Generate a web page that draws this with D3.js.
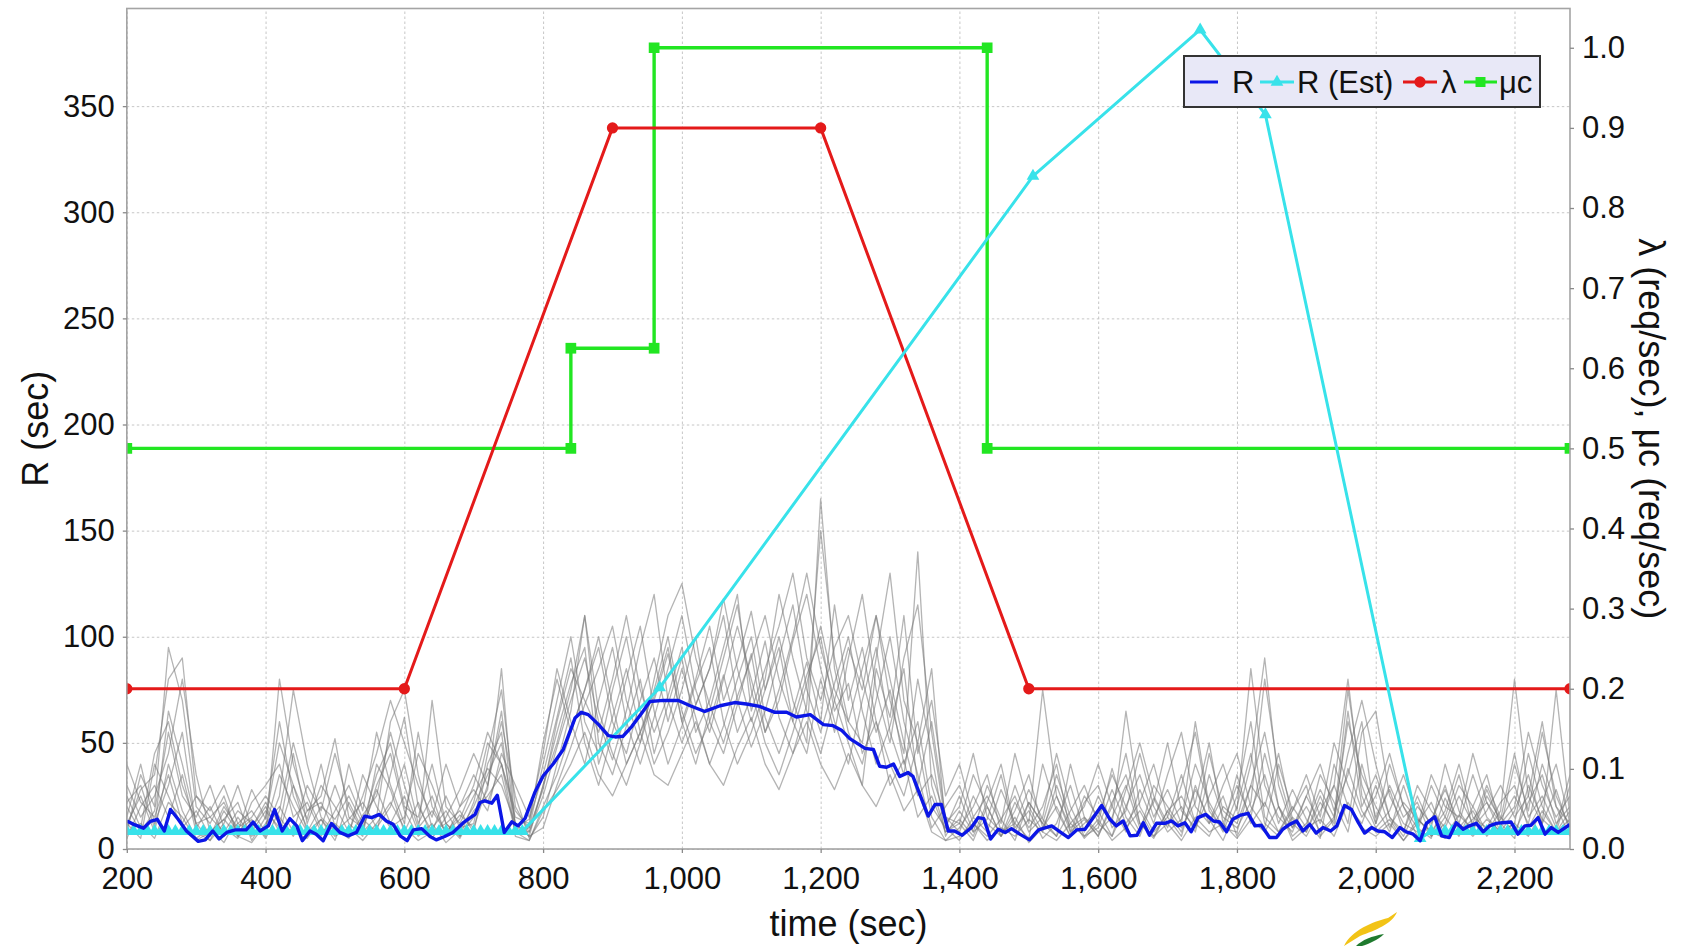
<!DOCTYPE html>
<html>
<head>
<meta charset="utf-8">
<script src="https://cdn.jsdelivr.net/npm/d3@7"></script>
<style>
  html, body { margin: 0; padding: 0; background: #fff; }
  svg { display: block; }
  text { font-family: "Liberation Sans", Arial, Helvetica, sans-serif; fill: #111; }
</style>
</head>
<body>
<svg id="chart" width="1685" height="946"></svg>
<script>
// ---------- axis ticks ----------
const xTicks  = [200, 400, 600, 800, 1000, 1200, 1400, 1600, 1800, 2000, 2200];
const yLTicks = [0, 50, 100, 150, 200, 250, 300, 350];
const yRTicks = [0.0, 0.1, 0.2, 0.3, 0.4, 0.5, 0.6, 0.7, 0.8, 0.9, 1.0];

// ---------- arrival rate λ (req/sec), right axis ----------
const lambdaTime = [200, 600, 900, 1200, 1500, 2280];
const lambdaVal  = [0.2, 0.2, 0.9, 0.9, 0.2, 0.2];

// ---------- service capacity μc (req/sec), right axis ----------
const muTime = [200, 840, 840, 960, 960, 1440, 1440, 2280];
const muVal  = [0.5, 0.5, 0.625, 0.625, 1.0, 1.0, 0.5, 0.5];

// ---------- estimated response time R (Est), left axis ----------
const estTime = [200,210,220,230,240,250,260,270,280,290,300,310,320,330,340,350,360,370,380,390,
                 400,410,420,430,440,450,460,470,480,490,500,510,520,530,540,550,560,570,580,590,
                 600,610,620,630,640,650,660,670,680,690,700,710,720,730,740,750,760,770,
                 968,1506,1747,1841,2064,
                 2080,2090,2100,2110,2120,2130,2140,2150,2160,2170,2180,2190,2200,2210,2220,2230,2240,2250,2260,2270,2280];
const estVal  = [8.3,8.3,8.3,8.3,8.3,8.3,8.3,8.3,8.3,8.3,8.3,8.3,8.3,8.3,8.3,8.3,8.3,8.3,8.3,8.3,
                 8.3,8.3,8.3,8.3,8.3,8.3,8.3,8.3,8.3,8.3,8.3,8.3,8.3,8.3,8.3,8.3,8.3,8.3,8.3,8.3,
                 8.3,8.3,8.3,8.3,8.3,8.3,8.3,8.3,8.3,8.3,8.3,8.3,8.3,8.3,8.3,8.3,8.3,8.3,
                 76,317,386,346,5,
                 8.3,8.3,8.3,8.3,8.3,8.3,8.3,8.3,8.3,8.3,8.3,8.3,8.3,8.3,8.3,8.3,8.3,8.3,8.3,8.3,8.3];

// ---------- mean measured response time R (sec), left axis ----------
const rTime = [200,210,224,234,244,254,263,274,286,303,313,324,333,344,356,372,382,392,404,413,
               424,435,445,453,464,473,483,495,507,519,531,543,553,564,574,584,594,604,613,625,
               637,646,658,670,685,702,709,716,726,734,744,755,764,774,788,800,815,829,846,855,
               865,880,894,904,915,928,942,954,973,995,1012,1033,1055,1076,1093,1112,1134,1151,1165,1185,
               1204,1218,1230,1242,1264,1276,1285,1295,1305,1314,1326,1333,1355,1365,1374,1384,1393,1404,1417,1427,
               1435,1445,1456,1466,1475,1487,1501,1514,1533,1545,1557,1569,1581,1593,1605,1617,1626,1636,1646,1656,
               1665,1674,1684,1696,1706,1715,1725,1734,1744,1755,1766,1775,1785,1794,1804,1816,1826,1835,1847,1857,
               1866,1876,1886,1895,1905,1914,1924,1935,1944,1955,1965,1975,1984,1994,2003,2013,2024,2035,2044,2054,
               2064,2073,2085,2095,2106,2116,2126,2135,2145,2155,2164,2174,2183,2195,2205,2215,2224,2234,2244,2253,
               2263,2280];
const rVal  = [13.2,11.6,9.8,13,14,8.5,18.6,14,8.5,3.6,4.3,8.5,4.7,7.8,9,9,12.7,8.5,10.9,18.6,
               8.5,14.3,10.9,3.9,8.5,7,3.9,12,7.8,6.2,7.8,15.5,14.8,16.3,13.2,11.6,6.2,3.9,9,9.6,
               5.9,4.3,5.9,7.8,12.4,16.3,21.9,22.7,21.6,25.3,7.8,12.8,10.9,14.4,26.6,34.4,40.3,46.9,61.7,64.4,
               63.3,58.6,53.4,52.8,53.1,57.8,64,69.5,70,70,67.5,64.8,67.5,69,68.3,67.2,64.4,64.4,62.2,63.3,
               58.6,58.1,56,52,47.4,46.9,39,38.5,40,34.2,36,34.2,15.5,21,21,8.5,8.5,6.5,10,14.8,
               14.3,4.7,9.3,7.8,9.6,7,4.3,9,10.9,8.1,5.4,9,9.3,14.8,20.5,14,10.9,13.2,6.2,6.5,
               12.4,6.5,12.1,12.1,13.2,10.9,12.4,8.1,14.8,16.3,13.2,12.7,8.1,14,15.8,16.8,10.9,11.2,5.4,5.4,
               9.3,11.6,13.2,8.5,11.6,7.5,10.1,8.5,10.9,20.5,18.6,12.4,7.5,10.1,8.5,8.1,5.4,10.1,8.1,7,
               3.9,12.1,15.2,6.2,5.4,12.4,9.3,10.9,12.1,8.1,10.9,12.1,12.4,12.7,7,10.9,11.2,14.8,7,10.1,
               7.8,11.6];

// ---------- individual replication runs of R (sec), left axis ----------
const grayTime = [200,220,240,260,280,300,320,340,360,380,400,420,440,460,480,500,520,540,560,580,
                  600,620,640,660,680,700,720,740,760,780,800,820,840,860,880,900,920,940,960,980,
                  1000,1020,1040,1060,1080,1100,1120,1140,1160,1180,1200,1220,1240,1260,1280,1300,1320,1340,1360,1380,
                  1400,1420,1440,1460,1480,1500,1520,1540,1560,1580,1600,1620,1640,1660,1680,1700,1720,1740,1760,1780,
                  1800,1820,1840,1860,1880,1900,1920,1940,1960,1980,2000,2020,2040,2060,2080,2100,2120,2140,2160,2180,
                  2200,2220,2240,2260,2280];
const run01 = [12,25,8,40,18,5,10,3,15,6, 10,35,20,8,14,4,22,9,30,45, 18,6,12,3,9,20,35,50,12,6,
               30,55,78,95,40,62,85,55,70,92, 60,80,105,70,88,112,75,95,60,82, 100,65,78,45,60,30,42,15,25,8,
               12,4,20,6,15,3,10,25,8,14, 6,22,35,12,5,18,8,28,14,4, 20,45,12,6,15,8,25,10,38,18,
               8,14,4,12,22,6,16,9,28,12, 5,30,14,8,18];
const run02 = [25,10,45,60,30,12,4,18,8,14, 5,18,50,25,10,30,12,6,40,28, 8,22,5,15,28,45,30,60,25,5,
               15,40,65,110,50,35,58,80,45,68, 90,55,70,95,120,65,85,105,130,90, 70,95,110,80,55,75,40,60,20,10,
               4,15,8,28,12,5,40,18,6,22, 30,10,18,45,20,8,14,40,22,10, 8,30,55,20,6,12,28,15,60,35,
               20,8,30,10,5,24,10,18,6,14, 25,12,40,20,6];
const run03 = [8,35,20,95,70,20,12,25,6,10, 20,8,30,14,40,10,5,16,25,55, 30,10,18,8,14,30,55,40,8,10,
               40,70,100,60,45,75,100,65,40,55, 75,100,60,45,68,92,55,70,98,120, 85,60,40,70,95,55,35,80,45,6,
               18,8,30,14,4,22,12,35,15,5, 12,38,15,6,24,10,30,55,18,9, 35,12,22,8,18,30,6,14,45,70,
               40,15,6,20,12,30,8,14,22,8, 12,45,20,8,30];
const run04 = [30,15,25,45,80,35,8,14,22,4, 15,60,25,10,6,18,30,14,8,35, 62,20,8,25,10,12,45,75,20,8,
               25,48,70,90,60,42,65,95,120,70, 50,68,85,110,70,48,65,90,115,75, 55,78,100,65,40,58,85,30,60,15,
               8,25,12,6,18,35,10,20,6,12, 18,6,28,50,25,12,20,8,35,15, 10,22,80,35,12,6,18,30,12,55,
               65,25,12,8,30,15,6,20,35,10, 40,18,55,25,10];
const run05 = [15,40,12,30,55,10,20,6,12,18, 8,25,75,40,15,8,14,22,10,20, 40,12,25,6,20,35,22,40,15,12,
               50,80,55,75,100,68,40,55,75,100, 65,45,60,82,55,72,98,62,45,68, 150,90,60,85,110,70,45,140,30,8,
               14,6,22,40,10,18,5,12,30,8, 25,12,65,20,8,15,35,12,6,20, 14,40,90,30,10,20,8,15,75,30,
               12,40,20,6,14,28,12,35,15,8, 18,35,12,75,15];
const run06 = [5,20,30,15,35,8,4,12,30,10, 22,12,8,30,18,45,20,8,15,60, 75,35,10,18,6,15,28,85,10,14,
               35,62,90,50,30,55,80,105,65,40, 58,78,95,60,40,55,75,100,70,50, 165,85,55,40,70,100,60,35,10,20,
               30,12,6,14,25,8,15,45,20,6, 10,28,12,22,40,15,6,30,12,25, 6,18,35,12,28,14,5,40,20,12,
               30,10,22,14,8,18,40,15,10,22, 30,10,22,40,12];
const run07 = [20,8,18,55,25,15,30,10,5,22, 30,40,15,22,8,12,6,35,20,10, 15,45,30,12,18,8,40,55,6,4,
               20,35,55,75,95,60,45,70,90,60, 85,62,40,58,80,100,62,45,65,88, 60,115,70,95,60,40,25,50,15,4,
               10,20,35,8,12,28,14,6,18,30, 12,6,20,35,15,28,12,60,20,8, 25,60,15,8,20,10,35,22,8,40,
               15,28,8,30,18,10,25,12,30,15, 8,22,35,12,20];
const run08 = [10,28,35,80,90,25,15,8,18,12, 6,80,40,18,25,52,15,10,28,12, 25,8,70,20,12,25,38,30,12,6,
               10,30,48,68,85,105,70,50,80,110, 125,90,68,50,72,90,110,80,60,45, 80,55,90,120,75,50,90,115,55,12,
               20,45,15,8,30,12,75,25,10,15, 8,15,30,10,22,50,18,10,25,40, 18,85,30,15,8,25,12,30,80,25,
               10,18,35,15,6,12,30,20,8,18, 80,25,12,28,8];
const run09 = [8,12,5,22,15,4,8,14,6,3, 12,20,8,5,14,6,10,4,12,22, 10,4,8,12,5,18,25,35,8,4,
               18,28,40,55,35,25,40,55,35,30, 45,60,40,30,48,62,40,28,45,60, 40,28,45,30,20,35,18,28,8,4,
               6,12,4,10,6,14,8,4,12,6, 14,4,10,18,6,12,4,15,8,12, 5,14,8,20,4,10,14,6,22,10,
               6,12,4,14,8,5,12,6,14,8, 12,6,18,8,14];
const run10 = [40,22,15,35,12,25,18,30,12,8, 18,10,45,12,30,20,8,25,45,70, 50,30,15,40,20,28,18,45,30,15,
               45,85,60,40,70,95,60,40,62,85, 110,75,55,80,105,80,55,75,100,130, 95,70,50,30,85,62,110,45,70,25,
               40,15,25,12,45,20,8,30,12,20, 40,20,8,28,12,35,55,20,12,30, 45,20,10,40,18,35,15,50,30,15,
               25,45,20,10,35,20,15,45,22,12, 20,55,30,15,25];
const run11 = [12,5,40,25,10,18,6,20,10,15, 25,15,6,18,22,8,40,18,55,30, 12,55,20,8,16,10,30,65,10,8,
               30,50,75,110,65,45,30,50,72,95, 60,40,65,90,115,75,50,35,55,78, 105,75,60,50,90,130,70,50,85,10,
               25,8,14,35,8,22,12,6,40,15, 6,20,45,12,6,18,25,12,45,18, 12,30,20,45,14,8,22,12,65,20,
               35,15,8,25,10,40,18,8,25,14, 45,15,25,10,35];
const run12 = [22,30,10,65,40,12,15,22,8,28, 14,50,30,8,20,14,25,12,35,50, 20,15,40,12,6,22,50,40,18,10,
               28,60,85,70,55,80,110,75,55,72, 95,68,85,118,85,60,80,120,90,65, 45,70,95,75,110,80,50,25,35,15,
               12,35,20,6,22,10,20,40,8,25, 15,35,20,8,30,20,10,22,50,12, 30,15,45,20,10,25,40,18,35,60,
               12,30,15,22,6,15,35,10,18,30, 15,25,60,20,12];
const runs = [run01, run02, run03, run04, run05, run06, run07, run08, run09, run10, run11, run12];

// ---------- legend entries ----------
const legendItems = [
  { label: "R",       color: "#0b16e6", symbol: null },
  { label: "R (Est)", color: "#38e2ea", symbol: d3.symbolTriangle },
  { label: "λ",       color: "#e41a1a", symbol: d3.symbolCircle },
  { label: "μc",      color: "#22e622", symbol: d3.symbolSquare }
];

// ---------- layout ----------
const W = 1685, H = 946;
const P = { left: 126.8, right: 1570, top: 8.5, bottom: 849 };
const C = { blue: "#0b16e6", cyan: "#38e2ea", red: "#e41a1a", green: "#22e622", gray: "#767676" };

const x  = d3.scaleLinear().domain([200, 2280]).range([P.left, P.right]);
const yL = d3.scaleLinear().domain([0, 396]).range([P.bottom, P.top]);
const yR = d3.scaleLinear().domain([0, 1.049]).range([P.bottom, P.top]);

const svg = d3.select("#chart");
svg.append("rect").attr("width", W).attr("height", H).attr("fill", "#fff");
svg.append("defs").append("clipPath").attr("id", "plotClip")
  .append("rect").attr("x", P.left).attr("y", P.top)
  .attr("width", P.right - P.left).attr("height", P.bottom - P.top);

// ---------- grid ----------
const gridStyle = g => g.call(s => s.select(".domain").remove())
  .call(s => s.selectAll(".tick text").remove())
  .call(s => s.selectAll(".tick line").attr("stroke", "#c6c6c6").attr("stroke-width", 1).attr("stroke-dasharray", "2.5,2.5"));
svg.append("g").attr("transform", `translate(0,${P.bottom})`)
  .call(d3.axisBottom(x).tickValues(xTicks).tickSize(-(P.bottom - P.top))).call(gridStyle);
svg.append("g").attr("transform", `translate(${P.left},0)`)
  .call(d3.axisLeft(yL).tickValues(yLTicks).tickSize(-(P.right - P.left))).call(gridStyle);

// ---------- series ----------
const plot = svg.append("g").attr("clip-path", "url(#plotClip)");

const grayLine = d3.line().x((d, i) => x(grayTime[i])).y(d => yL(d));
plot.append("g").selectAll("path").data(runs).join("path")
  .attr("d", grayLine).attr("fill", "none")
  .attr("stroke", C.gray).attr("stroke-opacity", 0.55).attr("stroke-width", 1.3)
  .attr("stroke-linejoin", "round");

function series(times, vals, yScale, color, width, symbol, size) {
  const pts = times.map((t, i) => [x(t), yScale(vals[i])]);
  const g = plot.append("g");
  g.append("path").attr("d", d3.line()(pts)).attr("fill", "none")
    .attr("stroke", color).attr("stroke-width", width).attr("stroke-linejoin", "round");
  if (symbol) {
    g.selectAll("path.m").data(pts).join("path").attr("class", "m")
      .attr("transform", d => `translate(${d[0]},${d[1]})`)
      .attr("d", d3.symbol().type(symbol).size(size)).attr("fill", color);
  }
}
series(muTime, muVal, yR, C.green, 3.4, d3.symbolSquare, 115);
series(lambdaTime, lambdaVal, yR, C.red, 3, d3.symbolCircle, 100);
series(estTime, estVal, yL, C.cyan, 3, d3.symbolTriangle, 70);
series(rTime, rVal, yL, C.blue, 3.4, null, 0);

// ---------- plot border ----------
svg.append("rect").attr("x", P.left).attr("y", P.top)
  .attr("width", P.right - P.left).attr("height", P.bottom - P.top)
  .attr("fill", "none").attr("stroke", "#a4a4a4").attr("stroke-width", 1.6);

// ---------- axes ----------
const axisStyle = g => g.call(s => s.select(".domain").remove())
  .call(s => s.selectAll(".tick line").attr("stroke", "#8a8a8a").attr("stroke-width", 1.3))
  .call(s => s.selectAll(".tick text").attr("font-size", 31).attr("fill", "#111")
    .attr("font-family", "'Liberation Sans', Arial, sans-serif"));

svg.append("g").attr("transform", `translate(0,${P.bottom})`)
  .call(d3.axisBottom(x).tickValues(xTicks).tickSize(4).tickPadding(14).tickFormat(d3.format(",")))
  .call(axisStyle);
svg.append("g").attr("transform", `translate(${P.left},0)`)
  .call(d3.axisLeft(yL).tickValues(yLTicks).tickSize(4).tickPadding(8).tickFormat(d3.format("d")))
  .call(axisStyle);
svg.append("g").attr("transform", `translate(${P.right},0)`)
  .call(d3.axisRight(yR).tickValues(yRTicks).tickSize(4).tickPadding(8).tickFormat(d3.format(".1f")))
  .call(axisStyle);

// ---------- axis titles ----------
svg.append("text").attr("x", (P.left + P.right) / 2).attr("y", 936)
  .attr("text-anchor", "middle").attr("font-size", 36).text("time (sec)");
svg.append("text").attr("transform", `translate(35,${(P.top + P.bottom) / 2}) rotate(-90)`)
  .attr("text-anchor", "middle").attr("dominant-baseline", "central").attr("font-size", 36).text("R (sec)");
svg.append("text").attr("transform", `translate(1651,${(P.top + P.bottom) / 2}) rotate(90)`)
  .attr("text-anchor", "middle").attr("dominant-baseline", "central").attr("font-size", 36)
  .text("λ (req/sec), μc (req/sec)");

// ---------- legend ----------
const lg = svg.append("g");
lg.append("rect").attr("x", 1184).attr("y", 56).attr("width", 356).attr("height", 51)
  .attr("fill", "#e8e8f7").attr("stroke", "#333").attr("stroke-width", 2);
const legendX = [[1190, 1218, 1232], [1260, 1294, 1297], [1403, 1437, 1441], [1464, 1497, 1499]];
const ly = 82;
legendItems.forEach((it, i) => {
  const [a, b, tx] = legendX[i];
  lg.append("line").attr("x1", a).attr("x2", b).attr("y1", ly).attr("y2", ly)
    .attr("stroke", it.color).attr("stroke-width", 3);
  if (it.symbol) {
    lg.append("path").attr("transform", `translate(${(a + b) / 2},${ly})`)
      .attr("d", d3.symbol().type(it.symbol).size(it.symbol === d3.symbolTriangle ? 70 : 100))
      .attr("fill", it.color);
  }
  lg.append("text").attr("x", tx).attr("y", ly).attr("dominant-baseline", "central")
    .attr("font-size", 31).text(it.label);
});

// ---------- small emblem at the bottom ----------
const em = svg.append("g");
em.append("path").attr("d", "M1344,946 C1352,930 1372,922 1388,918 L1397,912 C1392,924 1376,930 1360,936 Z")
  .attr("fill", "#f2c316");
em.append("path").attr("d", "M1356,946 C1362,940 1372,936 1384,934 C1378,940 1368,944 1362,946 Z")
  .attr("fill", "#1f7a2e");
</script>
</body>
</html>
